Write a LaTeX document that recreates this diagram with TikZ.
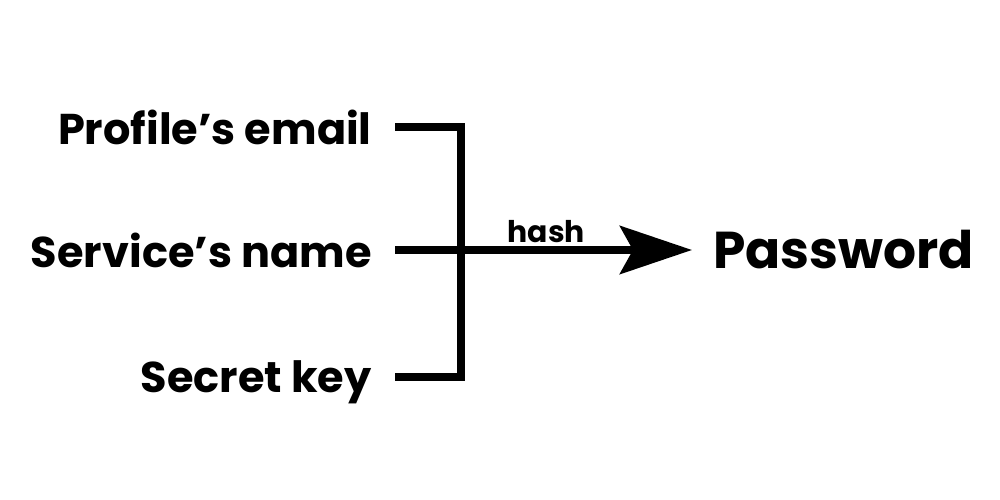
\documentclass[tikz,border=0pt]{standalone}
\usepackage{fontspec}
\setmainfont{Poppins}
\usetikzlibrary{arrows.meta}

\tikzset{
    input/.style={anchor=east, inner xsep=0.46cm, text depth=0pt, font=\bfseries\fontsize{24.5}{28}\selectfont},
    wire/.style={line width=4.5pt},
}

\begin{document}
\begin{tikzpicture}
    \useasboundingbox (0,0) rectangle (20,10);
    % inputs
    \node[input] (email) at (7.9,7.46) {Profile’s email};
    \node[input] (service) at (7.9,5) {Service’s name};
    \node[input] (secret) at (7.9,2.46) {Secret key};
    \coordinate (junc) at (9.22,5);
    % output
    \node[anchor=west, inner sep=0pt, font=\bfseries\fontsize{29.5}{32}\selectfont] (password) at (14.26,5) {Password};

    \draw[wire] (email.east) -| (junc |- secret.east) -- (secret.east);
    \draw[wire] (service.east) -- (junc);
    \draw[wire, -{Stealth[length=1.44cm, width=0.96cm, inset=0.26cm]}] (junc) -- ([xshift=-0.42cm]password.west)
        node[above, pos=0.37, inner sep=2pt, font=\bfseries\fontsize{17}{19}\selectfont] {hash};
\end{tikzpicture}
\end{document}
